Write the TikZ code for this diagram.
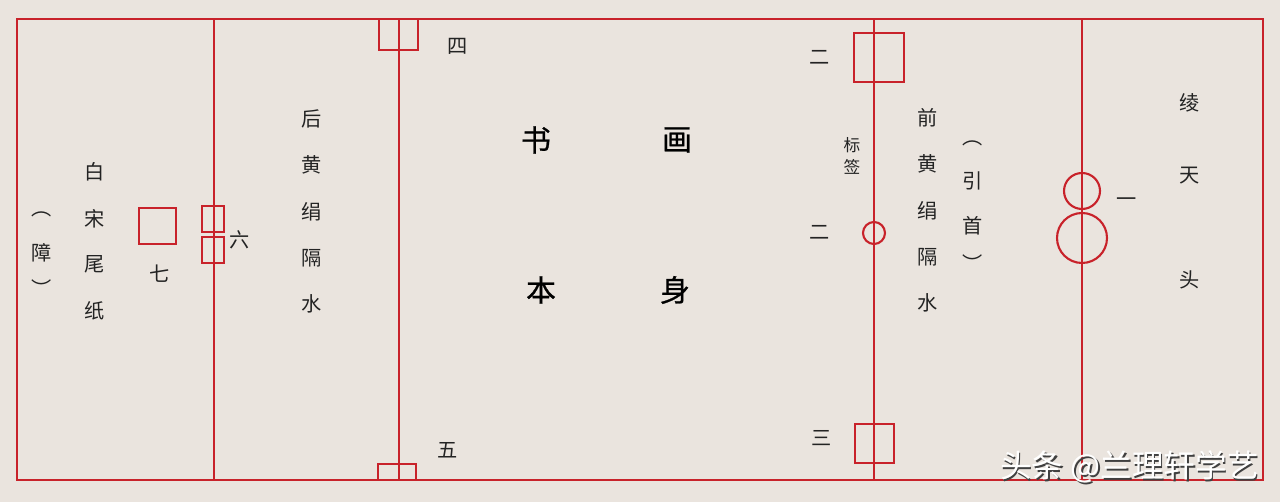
\documentclass[tikz,border=0pt]{standalone}
\usepackage{fontspec}
\newfontfamily\cjk{Noto Sans CJK SC}
\newfontfamily\cjkmid[FakeBold=0.8]{Noto Sans CJK SC}
\usetikzlibrary{positioning}
\definecolor{mountred}{RGB}{200,34,42}
\definecolor{paper}{RGB}{234,228,222}
\definecolor{ink}{RGB}{35,35,35}
\tikzset{edge/.style={draw=mountred,line width=1.2pt},
         seal/.style={draw=mountred,line width=1.2pt,inner sep=0pt},
         roundseal/.style={seal,circle},
         lbl/.style={text=ink,inner sep=0pt,font=\cjk\fontsize{11.5}{12}\selectfont},
         small/.style={lbl,font=\cjk\fontsize{9.5}{10}\selectfont},
         big/.style={lbl,text=black,font=\cjkmid\fontsize{17}{18}\selectfont},
        }

\begin{document}
\begin{tikzpicture}[x=0.02cm,y=-0.02cm]
        \fill[paper](0,0)rectangle(1280,502);
        \useasboundingbox(0,0)rectangle(1280,502);

        % frame and dividing lines
        \draw[edge](17,19)rectangle(1263,480);
        \coordinate(at)at(214,19);\coordinate(ab)at(214,480);
        \coordinate(bt)at(399,19);\coordinate(bb)at(399,480);
        \coordinate(ct)at(874,19);\coordinate(cb)at(874,480);
        \coordinate(dt)at(1082,19);\coordinate(db)at(1082,480);

        % seals
        \node[seal,minimum width=0.78cm,minimum height=0.62cm](s4)at(398.5,34.5){};
        \node[seal,minimum width=0.76cm,minimum height=0.32cm](s5)at(397,472){};
        \node[seal,minimum width=0.44cm,minimum height=0.52cm](s6a)at(213,219){};
        \node[seal,minimum width=0.44cm,minimum height=0.52cm](s6b)at(213,250){};
        \node[seal,minimum width=0.74cm,minimum height=0.72cm](s7)at(157.5,226){};
        \node[seal,minimum width=1.0cm,minimum height=0.98cm](s2a)at(879,57.5){};
        \node[roundseal,minimum size=0.44cm](s2b)at(874,233){};
        \node[seal,minimum width=0.78cm,minimum height=0.78cm](s3)at(874.5,443.5){};
        \node[roundseal,minimum size=0.72cm](s1a)at(1082,191){};
        \node[roundseal,minimum size=1.0cm](s1b)at(1082,238){};

        \draw[edge](at)--(ab);
        \draw[edge](bt)--(bb);
        \draw[edge](ct)--(cb);
        \draw[edge](dt)--(db);

        % numbers
        \node[lbl](n1)at(1127,202){一};
        \node[lbl](n2a)at(820,57){二};
        \node[lbl](n2b)at(820,232){二};
        \node[lbl](n3)at(822,438){三};
        \node[lbl](n4)at(458,46){四};
        \node[lbl](n5)at(448,450){五};
        \node[lbl](n6)at(240,240){六};
        \node[lbl](n7)at(160,274){七};

        % column texts
        \foreach \c [count=\i] in {白,宋,尾,纸}
          \node[lbl](w\i)at(95,{172+46.3*(\i-1)}){\c};
        \node[lbl](p1)at(42,214){︵};
        \node[lbl](p2)at(42,253){障};
        \node[lbl](p3)at(42,288){︶};
        \foreach \c [count=\i] in {后,黄,绢,隔,水}
          \node[lbl](h\i)at(312,{119+46.3*(\i-1)}){\c};
        \foreach \c [count=\i] in {前,黄,绢,隔,水}
          \node[lbl](q\i)at(928,{118+46.3*(\i-1)}){\c};
        \node[lbl](y1)at(973,143){︵};
        \node[lbl](y2)at(973,181){引};
        \node[lbl](y3)at(973,226){首};
        \node[lbl](y4)at(973,263){︶};
        \node[small](b1)at(852,145){标};
        \node[small](b2)at(852,167){签};
        \node[lbl](t1)at(1190,103){绫};
        \node[lbl](t2)at(1190,176){天};
        \node[lbl](t3)at(1190,280){头};

        % main body
        \node[big](m1)at(536,140){书};
        \node[big](m2)at(677,140){画};
        \node[big](m3)at(541,290){本};
        \node[big](m4)at(675,290){身};

        % watermark
        \node[lbl,font=\cjk\fontsize{18}{19}\selectfont,text=black!75](wm0)at(1131,468.5){头条 @兰理轩学艺};
        \node[lbl,font=\cjk\fontsize{18}{19}\selectfont,text=white](wm)at(1129.5,467){头条 @兰理轩学艺};
    \end{tikzpicture}
\end{document}
